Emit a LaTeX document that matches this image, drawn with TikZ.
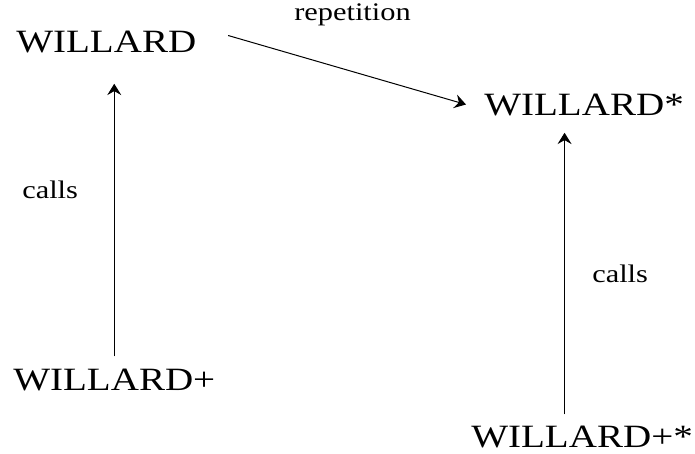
\documentclass[tikz,border=0pt]{standalone}
\usepackage{fontspec}
\setmainfont{Liberation Serif}[FakeStretch=1.2]
\usetikzlibrary{arrows.meta}

\tikzset{
  progname/.style={anchor=base west, inner sep=0.75pt, font=\fontsize{24.4}{29}\selectfont},
  relname/.style={anchor=base west, inner sep=0.75pt, font=\fontsize{19}{23}\selectfont},
  relarrow/.style={line width=0.75, -{Stealth[length=8.5pt,width=10.5pt,inset=3pt]}}
}

\begin{document}
\begin{tikzpicture}[x=0.75pt,y=0.75pt,yscale=-1,xscale=1]
\useasboundingbox (0,0) rectangle (695,453); %set diagram to 695 x 453

% Text Node
\node (willard) at (15,53) [progname] {WILLARD};
% Text Node
\node (star) at (483,115) [progname] {WILLARD*};
% Text Node
\node (plus) at (12,390) [progname] {WILLARD+};
% Text Node
\node (plusstar) at (470,447) [progname] {WILLARD+*};

% Text Node
\node (rep) at (293,21) [relname] {repetition};
% Text Node
\node (callsl) at (21,198) [relname] {calls};
% Text Node
\node (callsr) at (591,282) [relname] {calls};

%Straight Lines
\draw [relarrow] ([xshift=23pt,yshift=-5.25pt]willard.east) -- ([xshift=-12.75pt]star.west);
\draw [relarrow, shorten <=8.25pt, shorten >=21.75pt] (plus.north) -- (plus.north |- willard.south);
\draw [relarrow, shorten <=7.5pt, shorten >=12pt] ([xshift=-13.1pt]plusstar.north) -- ([xshift=-13.1pt]plusstar.north |- star.south);
\end{tikzpicture}
\end{document}
